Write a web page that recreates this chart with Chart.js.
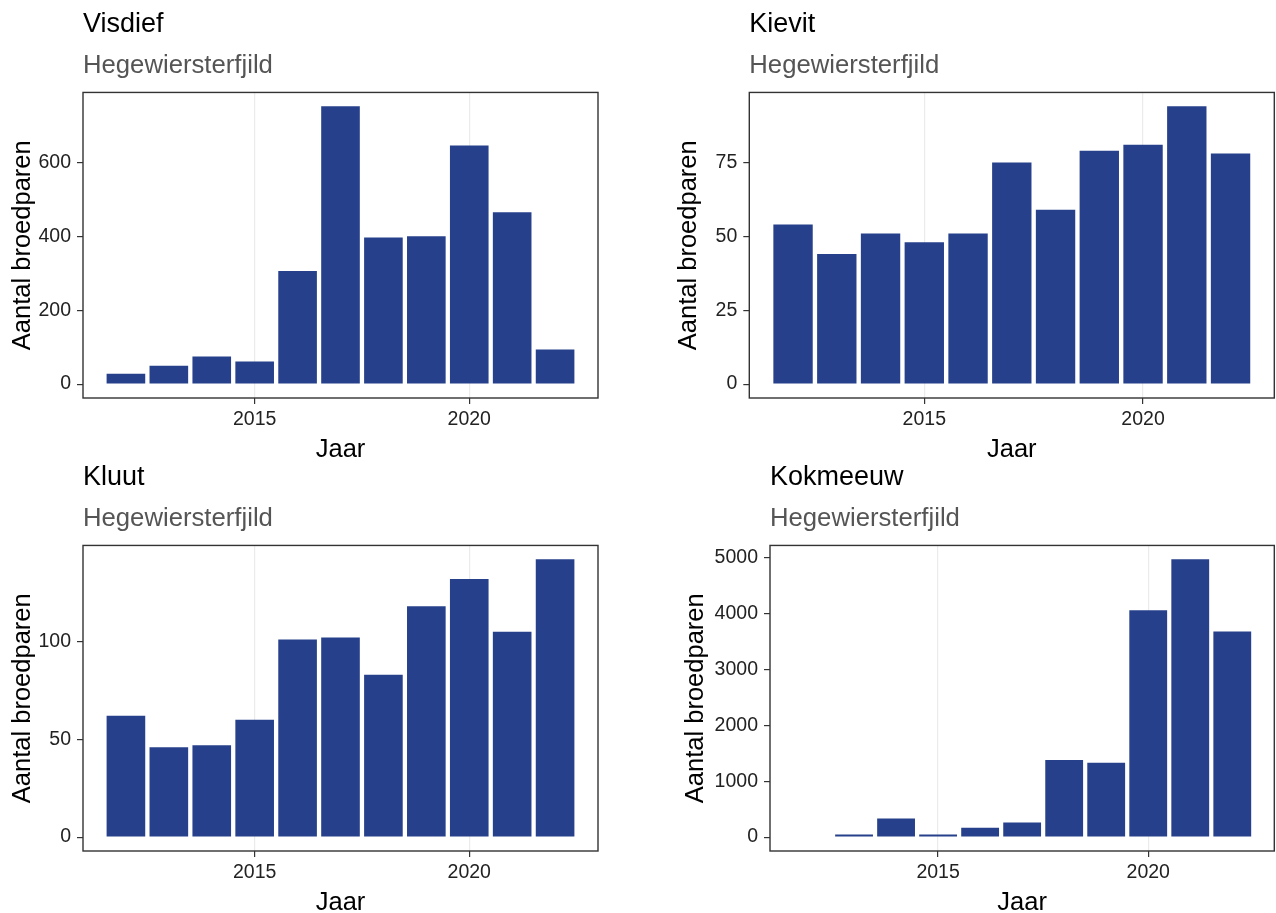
<!DOCTYPE html>
<html>
<head>
<meta charset="utf-8">
<title>Broedparen Hegewiersterfjild</title>
<script src="https://cdn.jsdelivr.net/npm/chart.js@4.4.1/dist/chart.umd.min.js"></script>
<style>
  html, body { margin: 0; padding: 0; background: #fff; overflow: hidden; }
  canvas { position: absolute; }
</style>
</head>
<body>
<canvas id="visdief" width="638" height="470" style="left:0px;top:0px"></canvas>
<canvas id="kievit" width="638" height="470" style="left:638px;top:0px"></canvas>
<canvas id="kluut" width="638" height="470" style="left:0px;top:453px"></canvas>
<canvas id="kokmeeuw" width="638" height="470" style="left:638px;top:453px"></canvas>
<script>
// data
const years = [2012, 2013, 2014, 2015, 2016, 2017, 2018, 2019, 2020, 2021, 2022];
const visdief = [28, 50, 75, 61, 306, 752, 397, 400, 646, 465, 94];
const kievit = [54, 44, 51, 48, 51, 75, 59, 79, 81, 94, 78];
const kluut = [62, 46, 47, 60, 101, 102, 83, 118, 132, 105, 142];
const kokmeeuw = [null, 47, 333, 47, 166, 261, 1378, 1330, 4056, 4964, 3676];

const xTicks = [2015, 2020];
const visdiefTicks = [0, 200, 400, 600];
const kievitTicks = [0, 25, 50, 75];
const kluutTicks = [0, 50, 100];
const kokmeeuwTicks = [0, 1000, 2000, 3000, 4000, 5000];

const subtitle = "Hegewiersterfjild";
const xTitle = "Jaar";
const yTitle = "Aantal broedparen";

const barColor = "#27408b";
const font = "'Liberation Sans', Arial, sans-serif";

Chart.defaults.font.family = font;

// black box round the plot area (ggplot theme_bw look)
const frame = {
    id: 'frame',
    afterDraw(chart) {
	const a = chart.chartArea;
	const ctx = chart.ctx;
	ctx.save();
	ctx.strokeStyle = '#333';
	ctx.lineWidth = 1.4;
	ctx.strokeRect(a.left, a.top, a.right - a.left, a.bottom - a.top);
	ctx.restore();
    }
};

function makePanel(id, title, values, yTicks, lay){
    let maxVal = Math.max(...values.filter(v => v !== null));
    let points = years.map((yr, i) => ({x: yr, y: values[i]}));
    new Chart(document.getElementById(id), {
	type: 'bar',
	data: {
	    datasets: [{
		data: points,
		backgroundColor: barColor,
		borderWidth: 0,
		categoryPercentage: 1,
		barPercentage: 0.9
	    }]
	},
	options: {
	    responsive: false,
	    animation: false,
	    devicePixelRatio: 1,
	    layout: { padding: { left: lay.padLeft, right: lay.padRight, top: 0, bottom: 0 } },
	    plugins: {
		legend: { display: false },
		tooltip: { enabled: false },
		title: {
		    display: true, text: title, align: 'start', fullSize: false,
		    color: '#000', font: { size: 27, weight: 'normal' },
		    padding: { top: 8.4, bottom: 0 }
		},
		subtitle: {
		    display: true, text: subtitle, align: 'start', fullSize: false,
		    color: '#555', font: { size: 25.7 },
		    padding: { top: 9.2, bottom: 11.6 }
		}
	    },
	    scales: {
		x: {
		    type: 'linear', min: 2011, max: 2023, offset: false,
		    grid: { offset: false, color: '#ebebeb', lineWidth: 1.2,
			    tickColor: '#333', tickLength: 6, tickWidth: 1.2 },
		    border: { display: false },
		    afterBuildTicks: s => { s.ticks = xTicks.map(v => ({value: v})); },
		    afterFit: s => { s.height = 72; },
		    ticks: { padding: 3.5, color: '#222', maxRotation: 0,
			     font: { size: 19.5 }, callback: v => String(v) },
		    title: { display: true, text: xTitle, color: '#000',
			     font: { size: 25.5 }, padding: { top: 0, bottom: 4.7 } }
		},
		y: {
		    min: -0.05 * maxVal, max: 1.05 * maxVal,
		    grid: { drawOnChartArea: false, color: '#333', tickLength: 6, lineWidth: 1.2 },
		    border: { display: false },
		    afterBuildTicks: s => { s.ticks = yTicks.map(v => ({value: v})); },
		    afterFit: s => { s.width = lay.axisWidth; },
		    ticks: { padding: 6, color: '#222', font: { size: 19.5 }, callback: v => String(v) },
		    title: { display: true, text: yTitle, color: '#000',
			     font: { size: 25.5 }, padding: 0 }
		}
	    }
	},
	plugins: [frame]
    });
}

makePanel('visdief', 'Visdief', visdief, visdiefTicks, {padLeft: 7.7, axisWidth: 75.3, padRight: 40});
makePanel('kievit', 'Kievit', kievit, kievitTicks, {padLeft: 35.7, axisWidth: 75.6, padRight: 1.7});
makePanel('kluut', 'Kluut', kluut, kluutTicks, {padLeft: 7.7, axisWidth: 75.3, padRight: 40});
makePanel('kokmeeuw', 'Kokmeeuw', kokmeeuw, kokmeeuwTicks, {padLeft: 42.7, axisWidth: 89.3, padRight: 1.7});
</script>
</body>
</html>
